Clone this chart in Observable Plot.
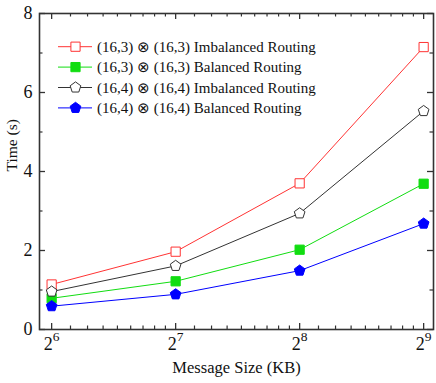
<!DOCTYPE html>
<html><head><meta charset="utf-8">
<script src="https://cdn.jsdelivr.net/npm/d3@7"></script>
<script src="https://cdn.jsdelivr.net/npm/@observablehq/plot@0.6"></script>
<style>
body{margin:0;background:#fff}
svg, svg text{font-family:"Liberation Serif","Times New Roman",serif}
</style>
</head><body><div id="chart"></div>
<script>
// ---- data ----
const messageSizes = [64, 128, 256, 512];
const seriesNames = [
  "(16,3) ⊗ (16,3) Imbalanced Routing",
  "(16,3) ⊗ (16,3) Balanced Routing",
  "(16,4) ⊗ (16,4) Imbalanced Routing",
  "(16,4) ⊗ (16,4) Balanced Routing"
];
const imbalanced163 = [1.14, 1.97, 3.70, 7.15];
const balanced163   = [0.79, 1.22, 2.02, 3.69];
const imbalanced164 = [0.96, 1.61, 2.94, 5.53];
const balanced164   = [0.59, 0.89, 1.49, 2.68];
const yTicks = [0, 2, 4, 6, 8];
const yMinorTicks = [1, 3, 5, 7];
const xTickExponents = [6, 7, 8, 9];
const xLabel = "Message Size (KB)";
const yLabel = "Time (s)";

// ---- styles ----
const pentagon = {
  draw(ctx, size) {
    const r = Math.sqrt(size / Math.PI) * 1.08;
    for (let i = 0; i < 5; i++) {
      const a = -Math.PI / 2 + i * 2 * Math.PI / 5;
      const x = r * Math.cos(a), y = r * Math.sin(a);
      i ? ctx.lineTo(x, y) : ctx.moveTo(x, y);
    }
    ctx.closePath();
  }
};
const styles = [
  {color: "#ff3333", symbol: d3.symbolSquare, filled: false},
  {color: "#11dd11", symbol: d3.symbolSquare, filled: true},
  {color: "#333333", symbol: pentagon, filled: false},
  {color: "#0000ff", symbol: pentagon, filled: true}
];
const seriesValues = [imbalanced163, balanced163, imbalanced164, balanced164];
const rows = [];
seriesValues.forEach((vals, s) => vals.forEach((v, i) => rows.push({series: s, x: messageSizes[i], y: v})));

const xMinorTicks = [];
messageSizes.slice(0, 3).forEach(v => { for (let k = 1; k <= 8; k++) xMinorTicks.push(v * (1 + k / 9)); });
const xMajorTicks = xTickExponents.map(e => 2 ** e);

const W = 436, H = 383, mL = 39, mR = 3, mT = 13, mB = 54;
const pw = W - mL - mR, ph = H - mT - mB;
const axisColor = "#333";
const textColor = "#111";
const serif = '"Liberation Serif","Times New Roman",serif';

const marks = [];
// ticks (inward, on all four sides)
marks.push(Plot.ruleX(xMajorTicks, {x: d => d, insetTop: ph - 6, stroke: axisColor, strokeWidth: 1.3}));
marks.push(Plot.ruleX(xMajorTicks, {x: d => d, insetBottom: ph - 6, stroke: axisColor, strokeWidth: 1.3}));
marks.push(Plot.ruleX(xMinorTicks, {x: d => d, insetTop: ph - 3.5, stroke: axisColor, strokeWidth: 1.2}));
marks.push(Plot.ruleX(xMinorTicks, {x: d => d, insetBottom: ph - 3.5, stroke: axisColor, strokeWidth: 1.2}));
marks.push(Plot.ruleY(yTicks, {y: d => d, insetRight: pw - 6, stroke: axisColor, strokeWidth: 1.3}));
marks.push(Plot.ruleY(yTicks, {y: d => d, insetLeft: pw - 6, stroke: axisColor, strokeWidth: 1.3}));
marks.push(Plot.ruleY(yMinorTicks, {y: d => d, insetRight: pw - 3.5, stroke: axisColor, strokeWidth: 1.2}));
marks.push(Plot.ruleY(yMinorTicks, {y: d => d, insetLeft: pw - 3.5, stroke: axisColor, strokeWidth: 1.2}));

styles.forEach((st, s) => {
  const data = rows.filter(r => r.series === s);
  marks.push(Plot.line(data, {x: "x", y: "y", stroke: st.color, strokeWidth: 1}));
});
styles.forEach((st, s) => {
  const data = rows.filter(r => r.series === s);
  marks.push(Plot.dot(data, {x: "x", y: "y", symbol: () => st.symbol, r: 5.2,
    fill: st.filled ? st.color : "white", stroke: st.color, strokeWidth: 1}));
});

marks.push(Plot.frame({stroke: axisColor, strokeWidth: 1.6}));
// y tick labels
marks.push(Plot.text(yTicks, {y: d => d, text: d => String(d), frameAnchor: "left", textAnchor: "end", dx: -7, fontSize: 18, fill: textColor, fontFamily: serif}));
// x tick labels (superscripts applied after render)
marks.push(Plot.text(xMajorTicks, {x: d => d, text: d => String(Math.round(Math.log2(d))), frameAnchor: "bottom", dy: 20, fontSize: 18, fill: textColor, fontFamily: serif, className: "xtl"}));
// axis titles
marks.push(Plot.text([yLabel], {text: d => d, frameAnchor: "left", dx: -27, rotate: -90, fontSize: 15.5, fill: textColor, fontFamily: serif}));
marks.push(Plot.text([xLabel], {text: d => d, frameAnchor: "bottom", dy: 43, fontSize: 16.5, fill: textColor, fontFamily: serif}));

const chart = Plot.plot({
  width: W, height: H,
  marginLeft: mL, marginRight: mR, marginTop: mT, marginBottom: mB,
  style: {fontFamily: serif, background: "white", color: textColor},
  x: {type: "log", base: 2, domain: [59.8, 541], axis: null},
  y: {domain: [0, 8], axis: null},
  symbol: {type: "identity"},
  marks
});
document.getElementById("chart").appendChild(chart);
const svg = d3.select(chart);

// superscript x tick labels: 2^n
svg.selectAll('g.xtl text').each(function() {
  const t = d3.select(this);
  const e = t.text();
  t.text("");
  t.append("tspan").text("2");
  t.append("tspan").attr("dy", "-0.6em").style("font-size", "13.5px").text(e);
});

// legend (inside plot)
const leg = svg.append("g").attr("font-size", 15).attr("font-family", serif).attr("fill", textColor).attr("text-anchor", "start");
const x0 = 58, x1 = 92, xm = 75.5, xt = 97, y0 = 46.7, dy = 20.4;
seriesNames.forEach((name, i) => {
  const st = styles[i];
  const y = y0 + i * dy;
  leg.append("line").attr("x1", x0).attr("x2", x1).attr("y1", y).attr("y2", y).attr("stroke", st.color).attr("stroke-width", 1);
  leg.append("path").attr("d", d3.symbol(st.symbol, 27 * Math.PI)()).attr("transform", `translate(${xm},${y})`)
    .attr("fill", st.filled ? st.color : "white").attr("stroke", st.color).attr("stroke-width", 1);
  leg.append("text").attr("x", xt).attr("y", y).attr("dy", "0.35em").text(name);
});
</script>
</body></html>
